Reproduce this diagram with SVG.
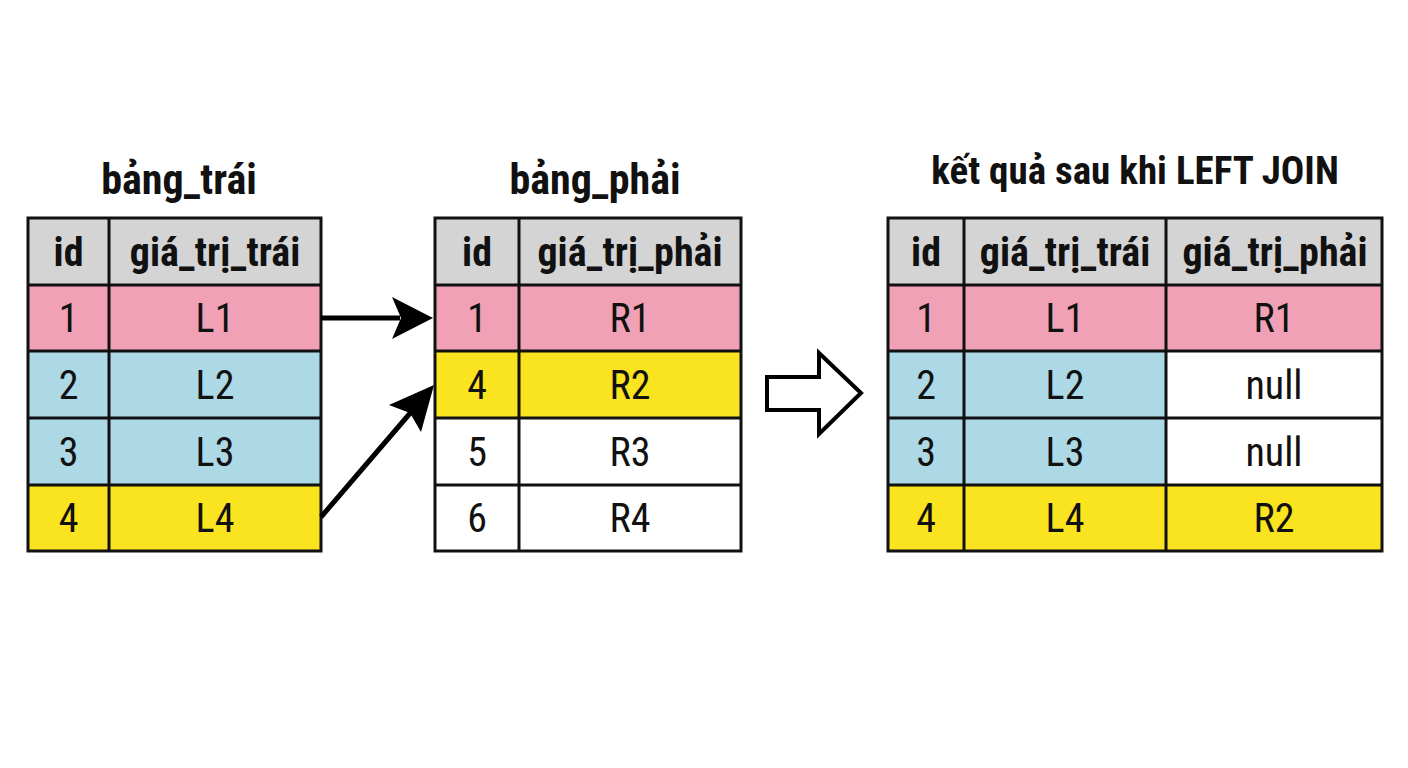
<svg xmlns="http://www.w3.org/2000/svg" width="1408" height="768" viewBox="0 0 1408 768">
<defs>
<style>
.title{font-family:"Roboto Condensed","Liberation Sans Narrow","Liberation Sans",Arial,sans-serif;font-weight:bold;font-size:42px;fill:#111;text-anchor:middle}
.title2{font-size:39px}
.hdr{font-family:"Roboto Condensed","Liberation Sans Narrow","Liberation Sans",Arial,sans-serif;font-weight:bold;font-size:40px;fill:#111;text-anchor:middle}
.cell{font-family:"Roboto Condensed","Liberation Sans Narrow","Liberation Sans",Arial,sans-serif;font-size:40px;fill:#111;text-anchor:middle}
.g{fill:#d4d4d4}.p{fill:#f0a1b5}.b{fill:#add8e5}.y{fill:#fae31f}.w{fill:#ffffff}
.grid{fill:none;stroke:#111;stroke-width:3}
.conn{stroke:#000;stroke-width:5;fill:none}
</style>
</defs>
<rect width="1408" height="768" fill="#ffffff"/>

<g id="left-table">
<text class="title" x="179" y="194">bảng_trái</text>
<rect class="g" x="28" y="218" width="293" height="67"/>
<rect class="p" x="28" y="285" width="293" height="66"/>
<rect class="b" x="28" y="351" width="293" height="67"/>
<rect class="b" x="28" y="418" width="293" height="67"/>
<rect class="y" x="28" y="485" width="293" height="66"/>
<path class="grid" d="M28 218H321V551H28Z M109 218V551 M28 285H321 M28 351H321 M28 418H321 M28 485H321"/>
<text class="hdr" x="68.5" y="266">id</text>
<text class="hdr" x="215" y="266">giá_trị_trái</text>
<text class="cell" x="68.5" y="332">1</text><text class="cell" x="215" y="332">L1</text>
<text class="cell" x="68.5" y="399">2</text><text class="cell" x="215" y="399">L2</text>
<text class="cell" x="68.5" y="466">3</text><text class="cell" x="215" y="466">L3</text>
<text class="cell" x="68.5" y="532">4</text><text class="cell" x="215" y="532">L4</text>
</g>

<g id="right-table">
<text class="title" x="595" y="194">bảng_phải</text>
<rect class="g" x="435" y="218" width="306" height="67"/>
<rect class="p" x="435" y="285" width="306" height="66"/>
<rect class="y" x="435" y="351" width="306" height="67"/>
<rect class="w" x="435" y="418" width="306" height="67"/>
<rect class="w" x="435" y="485" width="306" height="66"/>
<path class="grid" d="M435 218H741V551H435Z M519 218V551 M435 285H741 M435 351H741 M435 418H741 M435 485H741"/>
<text class="hdr" x="477" y="266">id</text>
<text class="hdr" x="630" y="266">giá_trị_phải</text>
<text class="cell" x="477" y="332">1</text><text class="cell" x="630" y="332">R1</text>
<text class="cell" x="477" y="399">4</text><text class="cell" x="630" y="399">R2</text>
<text class="cell" x="477" y="466">5</text><text class="cell" x="630" y="466">R3</text>
<text class="cell" x="477" y="532">6</text><text class="cell" x="630" y="532">R4</text>
</g>

<g id="result-table">
<text class="title title2" x="1135" y="184">kết quả sau khi LEFT JOIN</text>
<rect class="g" x="888" y="218" width="494" height="67"/>
<rect class="p" x="888" y="285" width="494" height="66"/>
<rect class="b" x="888" y="351" width="278" height="67"/>
<rect class="w" x="1166" y="351" width="216" height="67"/>
<rect class="b" x="888" y="418" width="278" height="67"/>
<rect class="w" x="1166" y="418" width="216" height="67"/>
<rect class="y" x="888" y="485" width="494" height="66"/>
<path class="grid" d="M888 218H1382V551H888Z M964 218V551 M1166 218V551 M888 285H1382 M888 351H1382 M888 418H1382 M888 485H1382"/>
<text class="hdr" x="926" y="266">id</text>
<text class="hdr" x="1065" y="266">giá_trị_trái</text>
<text class="hdr" x="1275" y="266">giá_trị_phải</text>
<text class="cell" x="926" y="332">1</text><text class="cell" x="1065" y="332">L1</text><text class="cell" x="1274" y="332">R1</text>
<text class="cell" x="926" y="399">2</text><text class="cell" x="1065" y="399">L2</text><text class="cell" x="1274" y="399">null</text>
<text class="cell" x="926" y="466">3</text><text class="cell" x="1065" y="466">L3</text><text class="cell" x="1274" y="466">null</text>
<text class="cell" x="926" y="532">4</text><text class="cell" x="1065" y="532">L4</text><text class="cell" x="1274" y="532">R2</text>
</g>

<g id="connectors">
<line class="conn" x1="321" y1="318" x2="400" y2="318"/>
<polygon points="433,318 392,297 401,318 392,339" fill="#000"/>
<line class="conn" x1="321" y1="517" x2="412" y2="411"/>
<polygon points="434,385 421,432 410,413 389,405" fill="#000"/>
<path d="M767 377H819V353L861 393L819 434V410H767Z" fill="#fff" stroke="#000" stroke-width="4" stroke-linejoin="miter"/>
</g>
</svg>
